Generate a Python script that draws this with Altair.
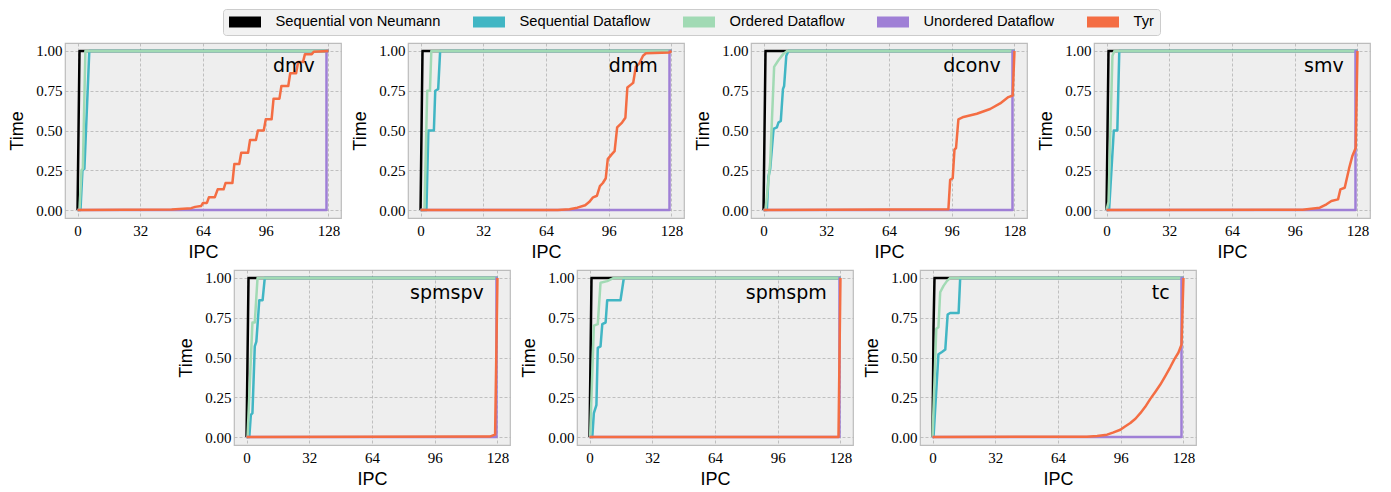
import altair as alt
import pandas as pd

PANELS = ["dmv", "dmm", "dconv", "smv", "spmspv", "spmspm", "tc"]
SERIES = ["Sequential von Neumann", "Sequential Dataflow", "Ordered Dataflow",
          "Unordered Dataflow", "Tyr"]
COLORS = ["#000000", "#41b6c4", "#a1dab4", "#9f7fd6", "#f46d43"]
X_TICKS = [0, 32, 64, 96, 128]
Y_TICKS = [0.0, 0.25, 0.5, 0.75, 1.0]

# ---- dmv ----
DMV_SVN = [(0, 0), (1, 1), (128, 1)]
DMV_SDF = [(0, 0), (1.5, 0), (2.5, 0.25), (3.5, 0.26), (6, 1), (128, 1)]
DMV_ODF = [(0, 0), (1, 0), (2, 0.25), (2.7, 0.26), (4, 1), (128, 1)]
DMV_UDF = [(0, 0), (127, 0), (127, 1), (128, 1)]
DMV_TYR = [(0, 0), (48, 0.004), (58, 0.012), (60, 0.02), (63, 0.025), (64, 0.045),
           (66, 0.045), (67, 0.08), (70, 0.08), (71.5, 0.13), (74.5, 0.13), (75.5, 0.17),
           (79, 0.17), (80, 0.29), (82.5, 0.29), (83.5, 0.36), (87, 0.36), (88, 0.44),
           (91, 0.44), (92, 0.50), (95, 0.50), (96, 0.57), (99, 0.57), (100, 0.70),
           (103, 0.70), (104, 0.78), (107.5, 0.78), (108.5, 0.86), (111.5, 0.86),
           (112.5, 0.93), (115, 0.93), (116, 0.98), (119.5, 0.98), (120.5, 0.995), (128, 1.0)]

# ---- dmm ----
DMM_SVN = [(0, 0), (1, 1), (128, 1)]
DMM_SDF = [(0, 0), (3, 0), (4, 0.5), (6.8, 0.5), (7.5, 0.75), (9, 0.76), (10, 1), (128, 1)]
DMM_ODF = [(0, 0), (2, 0), (3.4, 0.75), (4.8, 0.75), (5.5, 1), (128, 1)]
DMM_UDF = [(0, 0), (127, 0), (127, 1), (128, 1)]
DMM_TYR = [(0, 0), (70, 0), (76, 0.005), (80, 0.015), (84, 0.03), (86, 0.05), (88, 0.08),
           (90, 0.09), (91.5, 0.15), (93, 0.17), (94.5, 0.2), (95.5, 0.32), (97.5, 0.35),
           (99, 0.37), (100.3, 0.52), (102.8, 0.55), (104.5, 0.58), (105.5, 0.77),
           (107.5, 0.79), (108.5, 0.8), (109.8, 0.9), (111.5, 0.92), (113.5, 0.97),
           (115, 0.985), (127, 0.99), (128, 1)]

# ---- dconv ----
DCONV_SVN = [(0, 0), (1, 1), (128, 1)]
DCONV_SDF = [(0, 0), (1.7, 0), (2.5, 0.21), (3.4, 0.26), (5.1, 0.51), (6.8, 0.52),
             (7.6, 0.55), (8.8, 0.56), (9.9, 0.76), (10.5, 0.78), (11.6, 0.97),
             (12.7, 1), (128, 1)]
DCONV_ODF = [(0, 0), (1, 0), (3.4, 0.3), (5.4, 0.9), (7.5, 0.94), (10, 0.98), (12, 1), (128, 1)]
DCONV_UDF = [(0, 0), (127, 0), (127, 1), (128, 1)]
DCONV_TYR = [(0, 0), (94.3, 0.005), (95.2, 0.19), (96.5, 0.2), (97.4, 0.38), (98.2, 0.39),
             (99.4, 0.57), (102, 0.585), (108.8, 0.605), (115.6, 0.635), (120.7, 0.67),
             (124.9, 0.71), (127.1, 0.72), (128, 1)]

# ---- smv ----
SMV_SVN = [(0, 0), (1, 1), (128, 1)]
SMV_SDF = [(0, 0), (1.3, 0), (2.5, 0.25), (3.7, 0.5), (5.5, 0.5), (6.5, 1), (128, 1)]
SMV_ODF = [(0, 0), (1, 0.05), (3, 0.97), (4, 1), (128, 1)]
SMV_UDF = [(0, 0), (127, 0), (127, 1), (128, 1)]
SMV_TYR = [(0, 0), (100, 0.002), (108.8, 0.015), (112.2, 0.036), (114.7, 0.057),
           (118.1, 0.067), (119.3, 0.13), (121.5, 0.14), (123.7, 0.26), (125.4, 0.34),
           (127.1, 0.39), (128, 1)]

# ---- spmspv ----
SPMSPV_SVN = [(0, 0), (1, 1), (128, 1)]
SPMSPV_SDF = [(0, 0), (1.4, 0), (2.2, 0.14), (3, 0.15), (4.2, 0.57), (5, 0.6), (6.5, 0.86),
              (8.2, 0.86), (9.3, 1), (128, 1)]
SPMSPV_ODF = [(0, 0), (0.5, 0), (3, 0.72), (4.2, 0.72), (5.6, 1), (128, 1)]
SPMSPV_UDF = [(0, 0), (127.5, 0), (127.5, 1), (128, 1)]
SPMSPV_TYR = [(0, 0), (124, 0.003), (126.8, 0.015), (128, 1)]

# ---- spmspm ----
SPMSPM_SVN = [(0, 0), (1, 1), (128, 1)]
SPMSPM_SDF = [(0, 0), (1.4, 0), (2.2, 0.15), (3.5, 0.2), (4.2, 0.56), (5.6, 0.57),
              (6.5, 0.71), (8.2, 0.72), (9, 0.86), (15.8, 0.86), (17.5, 1), (128, 1)]
SPMSPM_ODF = [(0, 0), (0.3, 0), (2.2, 0.7), (4.2, 0.71), (5.6, 0.97), (9, 0.98),
              (12.4, 1), (128, 1)]
SPMSPM_UDF = [(0, 0), (127.5, 0), (127.5, 1), (128, 1)]
SPMSPM_TYR = [(0, 0), (127, 0), (128, 1)]

# ---- tc ----
TC_SVN = [(0, 0), (0.5, 0.69), (1, 1), (128, 1)]
TC_SDF = [(0, 0), (0.5, 0), (3, 0.52), (4.8, 0.535), (6.5, 0.55), (7.7, 0.77), (9, 0.78),
          (13.3, 0.78), (14.1, 1), (128, 1)]
TC_ODF = [(0, 0), (1.9, 0.68), (3, 0.69), (3.9, 0.91), (5.6, 0.95), (7.3, 0.98), (9, 1), (128, 1)]
TC_UDF = [(0, 0), (127, 0), (127, 1), (128, 1)]
TC_TYR = [(0, 0), (78.7, 0.002), (84, 0.006), (89, 0.015), (92, 0.028), (95.8, 0.046),
          (98, 0.065), (100.9, 0.088), (103.5, 0.115), (106, 0.15), (108.5, 0.19),
          (111.1, 0.24), (113.7, 0.285), (116.2, 0.33), (118.8, 0.385), (121.3, 0.44),
          (123.4, 0.49), (125.4, 0.53), (127, 0.58), (128, 1)]

PANEL_SERIES = {
    "dmv": [DMV_SVN, DMV_SDF, DMV_ODF, DMV_UDF, DMV_TYR],
    "dmm": [DMM_SVN, DMM_SDF, DMM_ODF, DMM_UDF, DMM_TYR],
    "dconv": [DCONV_SVN, DCONV_SDF, DCONV_ODF, DCONV_UDF, DCONV_TYR],
    "smv": [SMV_SVN, SMV_SDF, SMV_ODF, SMV_UDF, SMV_TYR],
    "spmspv": [SPMSPV_SVN, SPMSPV_SDF, SPMSPV_ODF, SPMSPV_UDF, SPMSPV_TYR],
    "spmspm": [SPMSPM_SVN, SPMSPM_SDF, SPMSPM_ODF, SPMSPM_UDF, SPMSPM_TYR],
    "tc": [TC_SVN, TC_SDF, TC_ODF, TC_UDF, TC_TYR],
}

rows = []
for p in PANELS:
    for s, pts in zip(SERIES, PANEL_SERIES[p]):
        for i, (x, y) in enumerate(pts):
            rows.append({"panel": p, "series": s, "i": i, "x": x, "y": y})
df = pd.DataFrame(rows)

LABEL_X = 121.0
LABEL_Y = 0.87

XSCALE = alt.Scale(domain=[-6.4, 134.4], nice=False, zero=False)
YSCALE = alt.Scale(domain=[-0.05, 1.05], nice=False, zero=False)

legend = alt.Legend(
    title=None, orient="none", direction="horizontal", legendX=158, legendY=-34,
    symbolType="stroke", symbolSize=1024, symbolStrokeWidth=11, symbolOffset=-5.5,
    labelOffset=9, labelFont="Liberation Sans", labelFontSize=14.7, labelColor="#000000",
    columnPadding=32, padding=6, fillColor="#f2f2f2", strokeColor="#cccccc",
    cornerRadius=3, clipHeight=14, labelLimit=400,
)


def panel(name):
    lines = alt.Chart(df).transform_filter(alt.datum.panel == name).mark_line(
        strokeWidth=2.5, strokeJoin="round"
    ).encode(
        x=alt.X("x:Q", scale=XSCALE, axis=alt.Axis(values=X_TICKS, title="IPC", format="d")),
        y=alt.Y("y:Q", scale=YSCALE, axis=alt.Axis(values=Y_TICKS, title="Time", format=".2f")),
        color=alt.Color("series:N", scale=alt.Scale(domain=SERIES, range=COLORS), legend=legend),
        order=alt.Order("i:Q"),
    )
    label = alt.Chart(pd.DataFrame({"name": [name]})).mark_text(
        align="right", baseline="alphabetic", font="DejaVu Sans", fontSize=19, color="#000000"
    ).encode(x=alt.datum(LABEL_X), y=alt.datum(LABEL_Y), text="name:N")
    return alt.layer(lines, label).properties(width=276, height=175)


spacer = alt.Chart(pd.DataFrame({"v": [""]})).mark_text().encode(text="v:N").properties(
    width=102, height=175, view=alt.ViewBackground(fill="transparent", stroke="transparent")
)

top = alt.hconcat(*[panel(p) for p in PANELS[:4]], spacing=9)
bottom = alt.hconcat(spacer, *[panel(p) for p in PANELS[4:]], spacing=9)

chart = alt.vconcat(top, bottom, spacing=7).properties(
    padding={"left": 0, "top": 0, "right": 0, "bottom": 0}
).configure_view(
    fill="#eeeeee", stroke="#bcbcbc", strokeWidth=1.2
).configure_axis(
    grid=True, gridColor="#b2b2b2", gridDash=[3, 2], gridWidth=0.8,
    domain=False, ticks=False, labelOverlap=False,
    labelFont="Liberation Serif", labelFontSize=15, labelColor="#000000",
    titleFont="Liberation Sans", titleFontSize=18, titleFontWeight="normal", titleColor="#000000",
).configure_axisX(
    labelPadding=5, titlePadding=5
).configure_axisY(
    labelPadding=3, titlePadding=9
)

chart.save("out.html", embed_options={"renderer": "svg", "actions": False})
